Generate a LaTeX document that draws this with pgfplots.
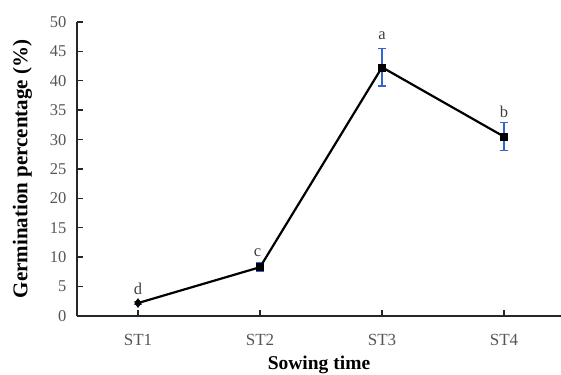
\documentclass[border=0pt]{standalone}
\usepackage{pgfplots}
\pgfplotsset{compat=1.18}
\usepackage{fontspec}
\setmainfont{Liberation Serif}
\definecolor{ebar}{RGB}{50,100,210}
\definecolor{tickgray}{RGB}{85,85,85}
\begin{document}
\begin{tikzpicture}[x=1pt,y=1pt]
\useasboundingbox (0,0) rectangle (561,374);
\begin{axis}[
  at={(77pt,58pt)}, anchor=south west,
  scale only axis, width=484pt, height=294pt,
  xmin=-0.5, xmax=3.467, ymin=0, ymax=50,
  axis lines*=left, axis line style={line width=1.8pt, color=black!85, -},
  xtick={0,1,2,3}, xticklabels={ST1,ST2,ST3,ST4},
  ytick={0,5,...,50},
  tick align=inside, major tick length=6pt,
  tick style={line width=1.4pt, color=black!85},
  /pgf/number format/assume math mode=true,
  xticklabel style={font=\fontsize{17}{19}\selectfont, color=tickgray, yshift=-15pt},
  yticklabel style={font=\fontsize{16.5}{18}\selectfont, color=tickgray, xshift=-7pt},
  xlabel={\textbf{Sowing time}},
  ylabel={\textbf{Germination percentage (\%)}},
  xlabel style={font=\fontsize{19.5}{22}\selectfont, yshift=-3pt},
  ylabel style={font=\fontsize{21}{24}\selectfont, yshift=11pt},
  clip=false,
]
\addplot[ebar, line width=1pt, mark=none, draw=none,
  error bars/.cd, y dir=both, y explicit,
  error bar style={line width=1.2pt, ebar},
  error mark options={rotate=90, mark size=4pt, line width=1.2pt, ebar}]
  coordinates {
  (0,2.2) +- (0,0.3)
  (1,8.3) +- (0,0.7)
  (2,42.3) +- (0,3.2)
  (3,30.5) +- (0,2.4)
};
\addplot[black, line width=2.2pt, mark=none] coordinates {
  (0,2.2) (1,8.3) (2,42.3) (3,30.5)
};
\addplot[only marks, mark=diamond*, mark size=4.5pt, black] coordinates {(0,2.2)};
\addplot[only marks, mark=square*, mark size=3.5pt, black] coordinates {(1,8.3) (2,42.3) (3,30.5)};
\node[font=\fontsize{16.5}{18}\selectfont, color=black!75] at (axis cs:0,4.6) {d};
\node[font=\fontsize{16.5}{18}\selectfont, color=black!75] at (axis cs:0.98,10.7) {c};
\node[font=\fontsize{16.5}{18}\selectfont, color=black!75] at (axis cs:2,47.6) {a};
\node[font=\fontsize{16.5}{18}\selectfont, color=black!75] at (axis cs:3,34.7) {b};
\end{axis}
\end{tikzpicture}
\end{document}
